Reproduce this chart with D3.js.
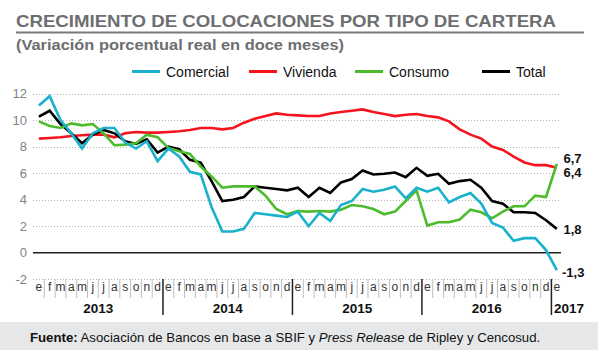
<!DOCTYPE html>
<html>
<head>
<meta charset="utf-8">
<script src="https://cdn.jsdelivr.net/npm/d3@7"></script>
<style>
  body { margin: 0; background: #fff; }
  svg { display: block; font-family: "Liberation Sans", Arial, Helvetica, sans-serif; }
</style>
</head>
<body>
<svg id="chart"></svg>
<script>
// meses ene 2013 - ene 2017
var monthLetters = ['e', 'f', 'm', 'a', 'm', 'j', 'j', 'a', 's', 'o', 'n', 'd'];
var years = ['2013', '2014', '2015', '2016', '2017'];
var yTicks = [-2, 0, 2, 4, 6, 8, 10, 12];

var comercial = [11.1, 11.8, 10.0, 9.0, 7.85, 9.0, 9.4, 9.4, 8.3, 7.85, 8.4, 6.9,
  7.85, 7.25, 6.1, 5.9, 3.45, 1.6, 1.6, 1.8, 3.0, 2.9, 2.8, 2.7,
  3.1, 2.0, 3.0, 2.4, 3.6, 3.9, 4.8, 4.6, 4.75, 5.0, 4.1, 4.9,
  4.6, 4.9, 3.8, 4.2, 4.5, 3.7, 2.25, 1.9, 0.9, 1.1, 1.1, 0.2,
  -1.3];
var vivienda = [8.6, 8.65, 8.7, 8.8, 8.85, 8.9, 8.9, 8.7, 9.0, 9.1, 9.05, 9.05,
  9.1, 9.15, 9.25, 9.4, 9.4, 9.3, 9.4, 9.8, 10.1, 10.3, 10.5, 10.4,
  10.35, 10.3, 10.3, 10.5, 10.6, 10.7, 10.8, 10.6, 10.45, 10.3, 10.4, 10.45,
  10.3, 10.2, 9.9, 9.3, 8.9, 8.6, 8.0, 7.75, 7.25, 6.8, 6.6, 6.6,
  6.4];
var consumo = [9.9, 9.55, 9.4, 9.75, 9.6, 9.7, 9.0, 8.1, 8.15, 8.25, 8.9, 8.7,
  7.9, 7.65, 7.45, 6.5, 5.75, 4.9, 5.0, 5.0, 5.0, 4.3, 3.3, 2.9,
  3.15, 3.1, 3.15, 3.1, 3.25, 3.6, 3.5, 3.3, 2.9, 3.1, 3.9, 4.7,
  2.05, 2.3, 2.3, 2.5, 3.25, 3.05, 2.6, 3.1, 3.5, 3.5, 4.3, 4.2,
  6.7];
var total = [10.25, 10.7, 9.7, 9.0, 8.25, 8.9, 9.25, 9.0, 8.4, 8.2, 8.55, 7.55,
  8.0, 7.8, 7.0, 6.8, 5.4, 3.9, 4.0, 4.2, 5.0, 4.9, 4.8, 4.7,
  4.9, 4.2, 4.9, 4.5, 5.3, 5.55, 6.2, 5.9, 5.95, 6.05, 5.7, 6.4,
  5.8, 5.95, 5.2, 5.4, 5.5, 4.9, 3.9, 3.7, 3.05, 3.05, 3.0, 2.45,
  1.8];

var seriesNames = ['Comercial', 'Vivienda', 'Consumo', 'Total'];
var seriesColors = ['#19b1cb', '#f5141e', '#4cbc2c', '#000000'];
var seriesData = [comercial, vivienda, consumo, total];
var endLabels = ['-1,3', '6,4', '6,7', '1,8'];

var w = 598, h = 350;
var svg = d3.select('#chart').attr('width', w).attr('height', h);

var nMonths = comercial.length;
var monthW = 10.79;
var x0 = 33.5;
var x = d3.scaleLinear().domain([-0.5, nMonths - 0.5]).range([x0, x0 + nMonths * monthW]);
var y = d3.scaleLinear().domain([-2, 12]).range([279.3, 93.5]);

var plotLeft = 33, plotRight = 559;

// titulo
svg.append('text').attr('x', 16).attr('y', 26.5)
  .attr('font-size', 16.5).attr('font-weight', 'bold').attr('fill', '#6d6e71')
  .attr('textLength', 540).attr('lengthAdjust', 'spacingAndGlyphs')
  .text('CRECIMIENTO DE COLOCACIONES POR TIPO DE CARTERA');
svg.append('line').attr('x1', 16).attr('x2', 584).attr('y1', 32.5).attr('y2', 32.5)
  .attr('stroke', '#77787b').attr('stroke-width', 2);
svg.append('text').attr('x', 16).attr('y', 50)
  .attr('font-size', 14).attr('font-weight', 'bold').attr('fill', '#6d6e71')
  .attr('textLength', 328).attr('lengthAdjust', 'spacingAndGlyphs')
  .text('(Variación porcentual real en doce meses)');

// leyenda
var legendX = [132, 249, 355, 482];
var legend = svg.append('g');
seriesNames.forEach(function (name, i) {
  legend.append('line').attr('x1', legendX[i]).attr('x2', legendX[i] + 28)
    .attr('y1', 71.5).attr('y2', 71.5)
    .attr('stroke', seriesColors[i]).attr('stroke-width', 3);
  legend.append('text').attr('x', legendX[i] + 34).attr('y', 76.5)
    .attr('font-size', 14).attr('fill', '#111').text(name);
});

// grilla
var grid = svg.append('g');
yTicks.forEach(function (t) {
  if (t !== 0) {
    grid.append('line').attr('x1', plotLeft).attr('x2', plotRight)
      .attr('y1', Math.round(y(t)) + 0.5).attr('y2', Math.round(y(t)) + 0.5)
      .attr('stroke', '#b5b5b5').attr('stroke-width', 1).attr('stroke-dasharray', '1,2');
  }
  grid.append('text').attr('x', 27).attr('y', y(t) + 4.5).attr('text-anchor', 'end')
    .attr('font-size', 13).attr('fill', '#808285').text(t);
});
grid.append('line').attr('x1', plotLeft).attr('x2', plotRight + 2)
  .attr('y1', y(0)).attr('y2', y(0)).attr('stroke', '#231f20').attr('stroke-width', 1.6);

// eje de meses
var axis = svg.append('g');
d3.range(nMonths).forEach(function (i) {
  axis.append('text').attr('x', x(i)).attr('y', 291).attr('text-anchor', 'middle')
    .attr('font-size', 12).attr('fill', '#333').text(monthLetters[i % 12]);
  if (i > 0) {
    var bx = x(i - 0.5);
    var isYear = i % 12 === 0;
    axis.append('line').attr('x1', bx).attr('x2', bx)
      .attr('y1', 279).attr('y2', isYear ? 315 : 298)
      .attr('stroke', isYear ? '#231f20' : '#bcbec0').attr('stroke-width', isYear ? 1.5 : 1);
  }
});
years.forEach(function (yr, k) {
  var last = k === years.length - 1;
  axis.append('text')
    .attr('x', last ? x(k * 12 - 0.5) + 2.5 : x(k * 12 + 5.5))
    .attr('y', 313).attr('text-anchor', last ? 'start' : 'middle')
    .attr('font-size', 13.5).attr('font-weight', 'bold').attr('fill', '#111').text(yr);
});

// series
var line = d3.line().x(function (d, i) { return x(i); }).y(function (d) { return y(d); });
var order = [1, 3, 2, 0];
order.forEach(function (s) {
  svg.append('path').datum(seriesData[s]).attr('d', line)
    .attr('fill', 'none').attr('stroke', seriesColors[s]).attr('stroke-width', 2.6)
    .attr('stroke-linejoin', 'miter');
});

// etiquetas finales
var labelY = [277, 177, 163, 234];
seriesData.forEach(function (arr, s) {
  svg.append('text').attr('x', s === 0 ? 562 : 563.5).attr('y', labelY[s])
    .attr('font-size', 13).attr('font-weight', 'bold').attr('fill', '#111')
    .text(endLabels[s]);
});

// fuente
svg.append('rect').attr('x', 0).attr('y', 322).attr('width', w).attr('height', h - 322)
  .attr('fill', '#e6e7e8');
var src = svg.append('text').attr('x', 30).attr('y', 342).attr('font-size', 13.2).attr('fill', '#111');
src.append('tspan').attr('font-weight', 'bold').text('Fuente:');
src.append('tspan').text(' Asociación de Bancos en base a SBIF y ');
src.append('tspan').attr('font-style', 'italic').text('Press Release');
src.append('tspan').text(' de Ripley y Cencosud.');
</script>
</body>
</html>
